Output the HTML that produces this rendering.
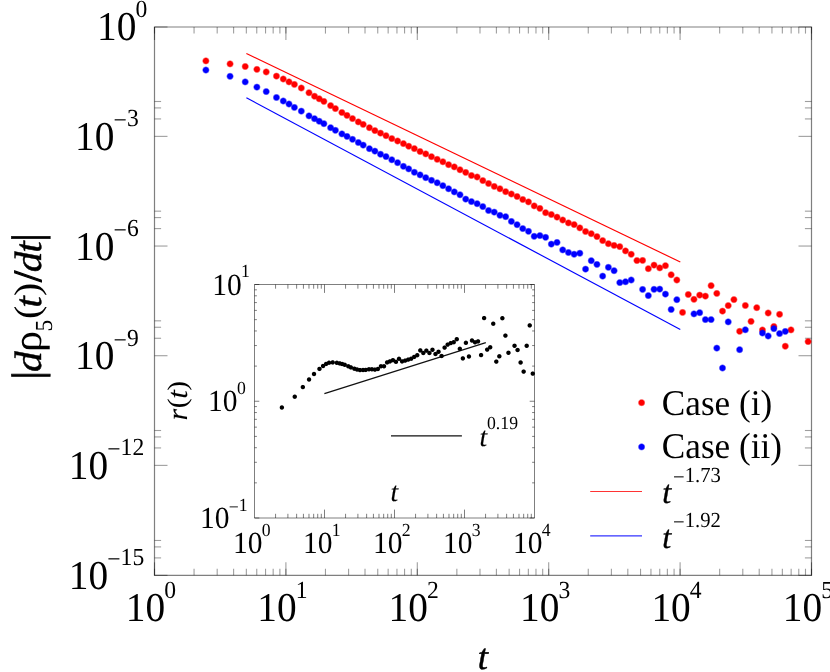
<!DOCTYPE html>
<html><head><meta charset="utf-8"><title>plot</title>
<style>
html,body{margin:0;padding:0;background:#fff;}
body{width:830px;height:672px;overflow:hidden;}
svg{display:block;position:absolute;left:0;top:0;will-change:transform;}
text{font-family:"Liberation Serif",serif;fill:#000;text-rendering:geometricPrecision;}
.i{font-style:italic;stroke:#000;}
</style></head><body>
<svg width="830" height="672" viewBox="0 0 830 672">
<rect x="0" y="0" width="830" height="672" fill="#fff"/>
<defs>
<radialGradient id="gr"><stop offset="0.62" stop-color="#ff0000"/><stop offset="1" stop-color="#ff0000" stop-opacity="0"/></radialGradient>
<radialGradient id="gb"><stop offset="0.62" stop-color="#0000ff"/><stop offset="1" stop-color="#0000ff" stop-opacity="0"/></radialGradient>
<radialGradient id="gk"><stop offset="0.62" stop-color="#000000"/><stop offset="1" stop-color="#000000" stop-opacity="0"/></radialGradient>
</defs>
<path d="M154.5 27H811.5V575.35H154.5Z" fill="none" stroke="#000" stroke-opacity="0.5" stroke-width="1.2"/>
<path d="M154.5 575.35L154.5 562.35" stroke="#000" stroke-opacity="0.38" stroke-width="1.1"/>
<path d="M154.5 27L154.5 40" stroke="#000" stroke-opacity="0.38" stroke-width="1.1"/>
<path d="M154.5 575.35L154.5 568.75" stroke="#000" stroke-opacity="0.38" stroke-width="1.1"/>
<path d="M154.5 27L154.5 33.6" stroke="#000" stroke-opacity="0.38" stroke-width="1.1"/>
<path d="M194.06 575.35L194.06 568.75" stroke="#000" stroke-opacity="0.38" stroke-width="1.1"/>
<path d="M194.06 27L194.06 33.6" stroke="#000" stroke-opacity="0.38" stroke-width="1.1"/>
<path d="M217.19 575.35L217.19 568.75" stroke="#000" stroke-opacity="0.38" stroke-width="1.1"/>
<path d="M217.19 27L217.19 33.6" stroke="#000" stroke-opacity="0.38" stroke-width="1.1"/>
<path d="M233.61 575.35L233.61 568.75" stroke="#000" stroke-opacity="0.38" stroke-width="1.1"/>
<path d="M233.61 27L233.61 33.6" stroke="#000" stroke-opacity="0.38" stroke-width="1.1"/>
<path d="M246.34 575.35L246.34 568.75" stroke="#000" stroke-opacity="0.38" stroke-width="1.1"/>
<path d="M246.34 27L246.34 33.6" stroke="#000" stroke-opacity="0.38" stroke-width="1.1"/>
<path d="M256.75 575.35L256.75 568.75" stroke="#000" stroke-opacity="0.38" stroke-width="1.1"/>
<path d="M256.75 27L256.75 33.6" stroke="#000" stroke-opacity="0.38" stroke-width="1.1"/>
<path d="M265.55 575.35L265.55 568.75" stroke="#000" stroke-opacity="0.38" stroke-width="1.1"/>
<path d="M265.55 27L265.55 33.6" stroke="#000" stroke-opacity="0.38" stroke-width="1.1"/>
<path d="M273.17 575.35L273.17 568.75" stroke="#000" stroke-opacity="0.38" stroke-width="1.1"/>
<path d="M273.17 27L273.17 33.6" stroke="#000" stroke-opacity="0.38" stroke-width="1.1"/>
<path d="M279.89 575.35L279.89 568.75" stroke="#000" stroke-opacity="0.38" stroke-width="1.1"/>
<path d="M279.89 27L279.89 33.6" stroke="#000" stroke-opacity="0.38" stroke-width="1.1"/>
<path d="M285.9 575.35L285.9 562.35" stroke="#000" stroke-opacity="0.38" stroke-width="1.1"/>
<path d="M285.9 27L285.9 40" stroke="#000" stroke-opacity="0.38" stroke-width="1.1"/>
<path d="M285.9 575.35L285.9 568.75" stroke="#000" stroke-opacity="0.38" stroke-width="1.1"/>
<path d="M285.9 27L285.9 33.6" stroke="#000" stroke-opacity="0.38" stroke-width="1.1"/>
<path d="M325.46 575.35L325.46 568.75" stroke="#000" stroke-opacity="0.38" stroke-width="1.1"/>
<path d="M325.46 27L325.46 33.6" stroke="#000" stroke-opacity="0.38" stroke-width="1.1"/>
<path d="M348.59 575.35L348.59 568.75" stroke="#000" stroke-opacity="0.38" stroke-width="1.1"/>
<path d="M348.59 27L348.59 33.6" stroke="#000" stroke-opacity="0.38" stroke-width="1.1"/>
<path d="M365.01 575.35L365.01 568.75" stroke="#000" stroke-opacity="0.38" stroke-width="1.1"/>
<path d="M365.01 27L365.01 33.6" stroke="#000" stroke-opacity="0.38" stroke-width="1.1"/>
<path d="M377.74 575.35L377.74 568.75" stroke="#000" stroke-opacity="0.38" stroke-width="1.1"/>
<path d="M377.74 27L377.74 33.6" stroke="#000" stroke-opacity="0.38" stroke-width="1.1"/>
<path d="M388.15 575.35L388.15 568.75" stroke="#000" stroke-opacity="0.38" stroke-width="1.1"/>
<path d="M388.15 27L388.15 33.6" stroke="#000" stroke-opacity="0.38" stroke-width="1.1"/>
<path d="M396.95 575.35L396.95 568.75" stroke="#000" stroke-opacity="0.38" stroke-width="1.1"/>
<path d="M396.95 27L396.95 33.6" stroke="#000" stroke-opacity="0.38" stroke-width="1.1"/>
<path d="M404.57 575.35L404.57 568.75" stroke="#000" stroke-opacity="0.38" stroke-width="1.1"/>
<path d="M404.57 27L404.57 33.6" stroke="#000" stroke-opacity="0.38" stroke-width="1.1"/>
<path d="M411.29 575.35L411.29 568.75" stroke="#000" stroke-opacity="0.38" stroke-width="1.1"/>
<path d="M411.29 27L411.29 33.6" stroke="#000" stroke-opacity="0.38" stroke-width="1.1"/>
<path d="M417.3 575.35L417.3 562.35" stroke="#000" stroke-opacity="0.38" stroke-width="1.1"/>
<path d="M417.3 27L417.3 40" stroke="#000" stroke-opacity="0.38" stroke-width="1.1"/>
<path d="M417.3 575.35L417.3 568.75" stroke="#000" stroke-opacity="0.38" stroke-width="1.1"/>
<path d="M417.3 27L417.3 33.6" stroke="#000" stroke-opacity="0.38" stroke-width="1.1"/>
<path d="M456.86 575.35L456.86 568.75" stroke="#000" stroke-opacity="0.38" stroke-width="1.1"/>
<path d="M456.86 27L456.86 33.6" stroke="#000" stroke-opacity="0.38" stroke-width="1.1"/>
<path d="M479.99 575.35L479.99 568.75" stroke="#000" stroke-opacity="0.38" stroke-width="1.1"/>
<path d="M479.99 27L479.99 33.6" stroke="#000" stroke-opacity="0.38" stroke-width="1.1"/>
<path d="M496.41 575.35L496.41 568.75" stroke="#000" stroke-opacity="0.38" stroke-width="1.1"/>
<path d="M496.41 27L496.41 33.6" stroke="#000" stroke-opacity="0.38" stroke-width="1.1"/>
<path d="M509.14 575.35L509.14 568.75" stroke="#000" stroke-opacity="0.38" stroke-width="1.1"/>
<path d="M509.14 27L509.14 33.6" stroke="#000" stroke-opacity="0.38" stroke-width="1.1"/>
<path d="M519.55 575.35L519.55 568.75" stroke="#000" stroke-opacity="0.38" stroke-width="1.1"/>
<path d="M519.55 27L519.55 33.6" stroke="#000" stroke-opacity="0.38" stroke-width="1.1"/>
<path d="M528.35 575.35L528.35 568.75" stroke="#000" stroke-opacity="0.38" stroke-width="1.1"/>
<path d="M528.35 27L528.35 33.6" stroke="#000" stroke-opacity="0.38" stroke-width="1.1"/>
<path d="M535.97 575.35L535.97 568.75" stroke="#000" stroke-opacity="0.38" stroke-width="1.1"/>
<path d="M535.97 27L535.97 33.6" stroke="#000" stroke-opacity="0.38" stroke-width="1.1"/>
<path d="M542.69 575.35L542.69 568.75" stroke="#000" stroke-opacity="0.38" stroke-width="1.1"/>
<path d="M542.69 27L542.69 33.6" stroke="#000" stroke-opacity="0.38" stroke-width="1.1"/>
<path d="M548.7 575.35L548.7 562.35" stroke="#000" stroke-opacity="0.38" stroke-width="1.1"/>
<path d="M548.7 27L548.7 40" stroke="#000" stroke-opacity="0.38" stroke-width="1.1"/>
<path d="M548.7 575.35L548.7 568.75" stroke="#000" stroke-opacity="0.38" stroke-width="1.1"/>
<path d="M548.7 27L548.7 33.6" stroke="#000" stroke-opacity="0.38" stroke-width="1.1"/>
<path d="M588.26 575.35L588.26 568.75" stroke="#000" stroke-opacity="0.38" stroke-width="1.1"/>
<path d="M588.26 27L588.26 33.6" stroke="#000" stroke-opacity="0.38" stroke-width="1.1"/>
<path d="M611.39 575.35L611.39 568.75" stroke="#000" stroke-opacity="0.38" stroke-width="1.1"/>
<path d="M611.39 27L611.39 33.6" stroke="#000" stroke-opacity="0.38" stroke-width="1.1"/>
<path d="M627.81 575.35L627.81 568.75" stroke="#000" stroke-opacity="0.38" stroke-width="1.1"/>
<path d="M627.81 27L627.81 33.6" stroke="#000" stroke-opacity="0.38" stroke-width="1.1"/>
<path d="M640.54 575.35L640.54 568.75" stroke="#000" stroke-opacity="0.38" stroke-width="1.1"/>
<path d="M640.54 27L640.54 33.6" stroke="#000" stroke-opacity="0.38" stroke-width="1.1"/>
<path d="M650.95 575.35L650.95 568.75" stroke="#000" stroke-opacity="0.38" stroke-width="1.1"/>
<path d="M650.95 27L650.95 33.6" stroke="#000" stroke-opacity="0.38" stroke-width="1.1"/>
<path d="M659.75 575.35L659.75 568.75" stroke="#000" stroke-opacity="0.38" stroke-width="1.1"/>
<path d="M659.75 27L659.75 33.6" stroke="#000" stroke-opacity="0.38" stroke-width="1.1"/>
<path d="M667.37 575.35L667.37 568.75" stroke="#000" stroke-opacity="0.38" stroke-width="1.1"/>
<path d="M667.37 27L667.37 33.6" stroke="#000" stroke-opacity="0.38" stroke-width="1.1"/>
<path d="M674.09 575.35L674.09 568.75" stroke="#000" stroke-opacity="0.38" stroke-width="1.1"/>
<path d="M674.09 27L674.09 33.6" stroke="#000" stroke-opacity="0.38" stroke-width="1.1"/>
<path d="M680.1 575.35L680.1 562.35" stroke="#000" stroke-opacity="0.38" stroke-width="1.1"/>
<path d="M680.1 27L680.1 40" stroke="#000" stroke-opacity="0.38" stroke-width="1.1"/>
<path d="M680.1 575.35L680.1 568.75" stroke="#000" stroke-opacity="0.38" stroke-width="1.1"/>
<path d="M680.1 27L680.1 33.6" stroke="#000" stroke-opacity="0.38" stroke-width="1.1"/>
<path d="M719.66 575.35L719.66 568.75" stroke="#000" stroke-opacity="0.38" stroke-width="1.1"/>
<path d="M719.66 27L719.66 33.6" stroke="#000" stroke-opacity="0.38" stroke-width="1.1"/>
<path d="M742.79 575.35L742.79 568.75" stroke="#000" stroke-opacity="0.38" stroke-width="1.1"/>
<path d="M742.79 27L742.79 33.6" stroke="#000" stroke-opacity="0.38" stroke-width="1.1"/>
<path d="M759.21 575.35L759.21 568.75" stroke="#000" stroke-opacity="0.38" stroke-width="1.1"/>
<path d="M759.21 27L759.21 33.6" stroke="#000" stroke-opacity="0.38" stroke-width="1.1"/>
<path d="M771.94 575.35L771.94 568.75" stroke="#000" stroke-opacity="0.38" stroke-width="1.1"/>
<path d="M771.94 27L771.94 33.6" stroke="#000" stroke-opacity="0.38" stroke-width="1.1"/>
<path d="M782.35 575.35L782.35 568.75" stroke="#000" stroke-opacity="0.38" stroke-width="1.1"/>
<path d="M782.35 27L782.35 33.6" stroke="#000" stroke-opacity="0.38" stroke-width="1.1"/>
<path d="M791.15 575.35L791.15 568.75" stroke="#000" stroke-opacity="0.38" stroke-width="1.1"/>
<path d="M791.15 27L791.15 33.6" stroke="#000" stroke-opacity="0.38" stroke-width="1.1"/>
<path d="M798.77 575.35L798.77 568.75" stroke="#000" stroke-opacity="0.38" stroke-width="1.1"/>
<path d="M798.77 27L798.77 33.6" stroke="#000" stroke-opacity="0.38" stroke-width="1.1"/>
<path d="M805.49 575.35L805.49 568.75" stroke="#000" stroke-opacity="0.38" stroke-width="1.1"/>
<path d="M805.49 27L805.49 33.6" stroke="#000" stroke-opacity="0.38" stroke-width="1.1"/>
<path d="M811.5 575.35L811.5 562.35" stroke="#000" stroke-opacity="0.38" stroke-width="1.1"/>
<path d="M811.5 27L811.5 40" stroke="#000" stroke-opacity="0.38" stroke-width="1.1"/>
<path d="M811.5 575.35L811.5 568.75" stroke="#000" stroke-opacity="0.38" stroke-width="1.1"/>
<path d="M811.5 27L811.5 33.6" stroke="#000" stroke-opacity="0.38" stroke-width="1.1"/>
<path d="M154.5 27L167.5 27" stroke="#000" stroke-opacity="0.38" stroke-width="1.1"/>
<path d="M811.5 27L798.5 27" stroke="#000" stroke-opacity="0.38" stroke-width="1.1"/>
<path d="M154.5 136.37L167.5 136.37" stroke="#000" stroke-opacity="0.38" stroke-width="1.1"/>
<path d="M811.5 136.37L798.5 136.37" stroke="#000" stroke-opacity="0.38" stroke-width="1.1"/>
<path d="M154.5 118.93L161.1 118.93" stroke="#000" stroke-opacity="0.38" stroke-width="1.1"/>
<path d="M811.5 118.93L804.9 118.93" stroke="#000" stroke-opacity="0.38" stroke-width="1.1"/>
<path d="M154.5 107.92L161.1 107.92" stroke="#000" stroke-opacity="0.38" stroke-width="1.1"/>
<path d="M811.5 107.92L804.9 107.92" stroke="#000" stroke-opacity="0.38" stroke-width="1.1"/>
<path d="M154.5 101.49L161.1 101.49" stroke="#000" stroke-opacity="0.38" stroke-width="1.1"/>
<path d="M811.5 101.49L804.9 101.49" stroke="#000" stroke-opacity="0.38" stroke-width="1.1"/>
<path d="M154.5 246.04L167.5 246.04" stroke="#000" stroke-opacity="0.38" stroke-width="1.1"/>
<path d="M811.5 246.04L798.5 246.04" stroke="#000" stroke-opacity="0.38" stroke-width="1.1"/>
<path d="M154.5 228.6L161.1 228.6" stroke="#000" stroke-opacity="0.38" stroke-width="1.1"/>
<path d="M811.5 228.6L804.9 228.6" stroke="#000" stroke-opacity="0.38" stroke-width="1.1"/>
<path d="M154.5 217.59L161.1 217.59" stroke="#000" stroke-opacity="0.38" stroke-width="1.1"/>
<path d="M811.5 217.59L804.9 217.59" stroke="#000" stroke-opacity="0.38" stroke-width="1.1"/>
<path d="M154.5 211.16L161.1 211.16" stroke="#000" stroke-opacity="0.38" stroke-width="1.1"/>
<path d="M811.5 211.16L804.9 211.16" stroke="#000" stroke-opacity="0.38" stroke-width="1.1"/>
<path d="M154.5 355.71L167.5 355.71" stroke="#000" stroke-opacity="0.38" stroke-width="1.1"/>
<path d="M811.5 355.71L798.5 355.71" stroke="#000" stroke-opacity="0.38" stroke-width="1.1"/>
<path d="M154.5 338.27L161.1 338.27" stroke="#000" stroke-opacity="0.38" stroke-width="1.1"/>
<path d="M811.5 338.27L804.9 338.27" stroke="#000" stroke-opacity="0.38" stroke-width="1.1"/>
<path d="M154.5 327.26L161.1 327.26" stroke="#000" stroke-opacity="0.38" stroke-width="1.1"/>
<path d="M811.5 327.26L804.9 327.26" stroke="#000" stroke-opacity="0.38" stroke-width="1.1"/>
<path d="M154.5 320.83L161.1 320.83" stroke="#000" stroke-opacity="0.38" stroke-width="1.1"/>
<path d="M811.5 320.83L804.9 320.83" stroke="#000" stroke-opacity="0.38" stroke-width="1.1"/>
<path d="M154.5 465.38L167.5 465.38" stroke="#000" stroke-opacity="0.38" stroke-width="1.1"/>
<path d="M811.5 465.38L798.5 465.38" stroke="#000" stroke-opacity="0.38" stroke-width="1.1"/>
<path d="M154.5 447.94L161.1 447.94" stroke="#000" stroke-opacity="0.38" stroke-width="1.1"/>
<path d="M811.5 447.94L804.9 447.94" stroke="#000" stroke-opacity="0.38" stroke-width="1.1"/>
<path d="M154.5 436.93L161.1 436.93" stroke="#000" stroke-opacity="0.38" stroke-width="1.1"/>
<path d="M811.5 436.93L804.9 436.93" stroke="#000" stroke-opacity="0.38" stroke-width="1.1"/>
<path d="M154.5 430.5L161.1 430.5" stroke="#000" stroke-opacity="0.38" stroke-width="1.1"/>
<path d="M811.5 430.5L804.9 430.5" stroke="#000" stroke-opacity="0.38" stroke-width="1.1"/>
<path d="M154.5 575.35L167.5 575.35" stroke="#000" stroke-opacity="0.38" stroke-width="1.1"/>
<path d="M811.5 575.35L798.5 575.35" stroke="#000" stroke-opacity="0.38" stroke-width="1.1"/>
<path d="M154.5 557.91L161.1 557.91" stroke="#000" stroke-opacity="0.38" stroke-width="1.1"/>
<path d="M811.5 557.91L804.9 557.91" stroke="#000" stroke-opacity="0.38" stroke-width="1.1"/>
<path d="M154.5 546.9L161.1 546.9" stroke="#000" stroke-opacity="0.38" stroke-width="1.1"/>
<path d="M811.5 546.9L804.9 546.9" stroke="#000" stroke-opacity="0.38" stroke-width="1.1"/>
<path d="M154.5 540.47L161.1 540.47" stroke="#000" stroke-opacity="0.38" stroke-width="1.1"/>
<path d="M811.5 540.47L804.9 540.47" stroke="#000" stroke-opacity="0.38" stroke-width="1.1"/>
<path d="M246.4 53.4L680.3 262" stroke="#ff0000" stroke-width="1.15" fill="none"/>
<path d="M246.4 97.8L680.3 329.5" stroke="#0000ff" stroke-width="1.15" fill="none"/>
<g fill="url(#gr)">
<circle cx="205.9" cy="60.9" r="3.95"/>
<circle cx="230.05" cy="63.9" r="3.95"/>
<circle cx="245.2" cy="66.5" r="3.95"/>
<circle cx="256.9" cy="69.35" r="3.95"/>
<circle cx="266.2" cy="71.95" r="3.95"/>
<circle cx="276.45" cy="76.1" r="3.95"/>
<circle cx="283.25" cy="79" r="3.95"/>
<circle cx="289" cy="81.9" r="3.95"/>
<circle cx="294.4" cy="84.4" r="3.95"/>
<circle cx="301.3" cy="88" r="3.95"/>
<circle cx="309" cy="92.75" r="3.95"/>
<circle cx="314.5" cy="96.2" r="3.95"/>
<circle cx="319.2" cy="98.8" r="3.95"/>
<circle cx="323.9" cy="101.4" r="3.95"/>
<circle cx="330.6" cy="105.6" r="3.95"/>
<circle cx="335.4" cy="108.6" r="3.95"/>
<circle cx="341.9" cy="112.5" r="3.95"/>
<circle cx="347" cy="115.4" r="3.95"/>
<circle cx="352.5" cy="118.6" r="3.95"/>
<circle cx="358.3" cy="121.9" r="3.95"/>
<circle cx="363.2" cy="124.4" r="3.95"/>
<circle cx="369.4" cy="127.7" r="3.95"/>
<circle cx="374.9" cy="130.6" r="3.95"/>
<circle cx="380.5" cy="133.1" r="3.95"/>
<circle cx="386" cy="135.7" r="3.95"/>
<circle cx="391.8" cy="138.6" r="3.95"/>
<circle cx="397.6" cy="141" r="3.95"/>
<circle cx="403.4" cy="143.6" r="3.95"/>
<circle cx="408.7" cy="146.2" r="3.95"/>
<circle cx="414.35" cy="148.6" r="3.95"/>
<circle cx="420.06" cy="151.5" r="3.95"/>
<circle cx="425.76" cy="153.9" r="3.95"/>
<circle cx="431.47" cy="156.7" r="3.95"/>
<circle cx="437.18" cy="159.3" r="3.95"/>
<circle cx="442.88" cy="161.8" r="3.95"/>
<circle cx="448.59" cy="164.7" r="3.95"/>
<circle cx="454.3" cy="166.9" r="3.95"/>
<circle cx="460" cy="169.8" r="3.95"/>
<circle cx="465.71" cy="172.4" r="3.95"/>
<circle cx="471.42" cy="175.5" r="3.95"/>
<circle cx="477.12" cy="177" r="3.95"/>
<circle cx="482.83" cy="180.6" r="3.95"/>
<circle cx="488.54" cy="183.5" r="3.95"/>
<circle cx="494.24" cy="186.4" r="3.95"/>
<circle cx="499.95" cy="188.8" r="3.95"/>
<circle cx="505.66" cy="191.7" r="3.95"/>
<circle cx="511.36" cy="194" r="3.95"/>
<circle cx="517.07" cy="196.5" r="3.95"/>
<circle cx="522.78" cy="199.5" r="3.95"/>
<circle cx="528.48" cy="201.9" r="3.95"/>
<circle cx="534.19" cy="205.9" r="3.95"/>
<circle cx="539.9" cy="208.4" r="3.95"/>
<circle cx="545.6" cy="212.7" r="3.95"/>
<circle cx="551.31" cy="214.5" r="3.95"/>
<circle cx="557.02" cy="217.1" r="3.95"/>
<circle cx="562.72" cy="220" r="3.95"/>
<circle cx="568.43" cy="222.9" r="3.95"/>
<circle cx="574.14" cy="224.6" r="3.95"/>
<circle cx="579.84" cy="227.9" r="3.95"/>
<circle cx="585.55" cy="231.5" r="3.95"/>
<circle cx="591.25" cy="233.7" r="3.95"/>
<circle cx="596.96" cy="236.6" r="3.95"/>
<circle cx="602.67" cy="240.6" r="3.95"/>
<circle cx="608.37" cy="243.7" r="3.95"/>
<circle cx="614.08" cy="245.4" r="3.95"/>
<circle cx="619.79" cy="246.65" r="3.95"/>
<circle cx="625.49" cy="250.9" r="3.95"/>
<circle cx="631.2" cy="254.25" r="3.95"/>
<circle cx="636.91" cy="260.55" r="3.95"/>
<circle cx="642.61" cy="260.4" r="3.95"/>
<circle cx="648.32" cy="268.7" r="3.95"/>
<circle cx="654.03" cy="265.1" r="3.95"/>
<circle cx="659.73" cy="267.9" r="3.95"/>
<circle cx="665.44" cy="265.7" r="3.95"/>
<circle cx="671.15" cy="274.8" r="3.95"/>
<circle cx="676.85" cy="280" r="3.95"/>
<circle cx="682.56" cy="312.4" r="3.95"/>
<circle cx="688.27" cy="294.5" r="3.95"/>
<circle cx="693.97" cy="299.3" r="3.95"/>
<circle cx="699.68" cy="295.1" r="3.95"/>
<circle cx="705.39" cy="296.1" r="3.95"/>
<circle cx="711.09" cy="285.65" r="3.95"/>
<circle cx="716.8" cy="293.4" r="3.95"/>
<circle cx="722.51" cy="311.1" r="3.95"/>
<circle cx="728.21" cy="305.6" r="3.95"/>
<circle cx="733.92" cy="299.6" r="3.95"/>
<circle cx="739.63" cy="331.3" r="3.95"/>
<circle cx="745.33" cy="305.5" r="3.95"/>
<circle cx="751.04" cy="321.4" r="3.95"/>
<circle cx="756.75" cy="307.7" r="3.95"/>
<circle cx="762.45" cy="330" r="3.95"/>
<circle cx="768.16" cy="313" r="3.95"/>
<circle cx="773.87" cy="326.5" r="3.95"/>
<circle cx="779.57" cy="314.3" r="3.95"/>
<circle cx="785.28" cy="346.2" r="3.95"/>
<circle cx="790.99" cy="329.9" r="3.95"/>
<circle cx="808.11" cy="341.6" r="3.95"/>
</g>
<g fill="url(#gb)">
<circle cx="205.9" cy="70.05" r="3.95"/>
<circle cx="230.05" cy="76.3" r="3.95"/>
<circle cx="245.2" cy="81.9" r="3.95"/>
<circle cx="256.9" cy="87.1" r="3.95"/>
<circle cx="266.2" cy="91.6" r="3.95"/>
<circle cx="276.45" cy="97.5" r="3.95"/>
<circle cx="283.25" cy="101" r="3.95"/>
<circle cx="289" cy="104" r="3.95"/>
<circle cx="294.4" cy="107.4" r="3.95"/>
<circle cx="301.3" cy="111.1" r="3.95"/>
<circle cx="309" cy="115.9" r="3.95"/>
<circle cx="314.5" cy="118.7" r="3.95"/>
<circle cx="319.2" cy="121.2" r="3.95"/>
<circle cx="323.9" cy="123.7" r="3.95"/>
<circle cx="330.6" cy="127.7" r="3.95"/>
<circle cx="335.4" cy="130.3" r="3.95"/>
<circle cx="341.9" cy="133.9" r="3.95"/>
<circle cx="347" cy="136.4" r="3.95"/>
<circle cx="352.5" cy="139.3" r="3.95"/>
<circle cx="358.3" cy="142.5" r="3.95"/>
<circle cx="363.2" cy="145.1" r="3.95"/>
<circle cx="369.4" cy="148.7" r="3.95"/>
<circle cx="374.9" cy="151.1" r="3.95"/>
<circle cx="380.5" cy="154.2" r="3.95"/>
<circle cx="386" cy="156.6" r="3.95"/>
<circle cx="391.8" cy="159.8" r="3.95"/>
<circle cx="397.6" cy="162.7" r="3.95"/>
<circle cx="403.4" cy="166.3" r="3.95"/>
<circle cx="408.7" cy="168.9" r="3.95"/>
<circle cx="414.35" cy="172.25" r="3.95"/>
<circle cx="420.06" cy="174.9" r="3.95"/>
<circle cx="425.76" cy="177.7" r="3.95"/>
<circle cx="431.47" cy="180.3" r="3.95"/>
<circle cx="437.18" cy="182.8" r="3.95"/>
<circle cx="442.88" cy="185.7" r="3.95"/>
<circle cx="448.59" cy="188.8" r="3.95"/>
<circle cx="454.3" cy="191.9" r="3.95"/>
<circle cx="460" cy="194.8" r="3.95"/>
<circle cx="465.71" cy="199.1" r="3.95"/>
<circle cx="471.42" cy="201.6" r="3.95"/>
<circle cx="477.12" cy="203.7" r="3.95"/>
<circle cx="482.83" cy="206.6" r="3.95"/>
<circle cx="488.54" cy="210.5" r="3.95"/>
<circle cx="494.24" cy="212.1" r="3.95"/>
<circle cx="499.95" cy="215.3" r="3.95"/>
<circle cx="505.66" cy="216.7" r="3.95"/>
<circle cx="511.36" cy="221.4" r="3.95"/>
<circle cx="517.07" cy="224.7" r="3.95"/>
<circle cx="522.78" cy="228.6" r="3.95"/>
<circle cx="528.48" cy="231.3" r="3.95"/>
<circle cx="534.19" cy="236.3" r="3.95"/>
<circle cx="539.9" cy="235.6" r="3.95"/>
<circle cx="545.6" cy="237.3" r="3.95"/>
<circle cx="551.31" cy="244.1" r="3.95"/>
<circle cx="557.02" cy="242.4" r="3.95"/>
<circle cx="562.72" cy="249.9" r="3.95"/>
<circle cx="568.43" cy="252.5" r="3.95"/>
<circle cx="574.14" cy="254.2" r="3.95"/>
<circle cx="579.84" cy="253.2" r="3.95"/>
<circle cx="585.55" cy="269.1" r="3.95"/>
<circle cx="591.25" cy="260.7" r="3.95"/>
<circle cx="596.96" cy="264.4" r="3.95"/>
<circle cx="602.67" cy="276.1" r="3.95"/>
<circle cx="608.37" cy="267.3" r="3.95"/>
<circle cx="614.08" cy="270.7" r="3.95"/>
<circle cx="619.79" cy="282.6" r="3.95"/>
<circle cx="625.49" cy="281.8" r="3.95"/>
<circle cx="631.2" cy="280" r="3.95"/>
<circle cx="642.61" cy="289.4" r="3.95"/>
<circle cx="648.32" cy="295.6" r="3.95"/>
<circle cx="654.03" cy="289.3" r="3.95"/>
<circle cx="659.73" cy="289.1" r="3.95"/>
<circle cx="665.44" cy="294.1" r="3.95"/>
<circle cx="671.15" cy="309.5" r="3.95"/>
<circle cx="676.85" cy="299.7" r="3.95"/>
<circle cx="693.97" cy="313.9" r="3.95"/>
<circle cx="699.68" cy="312.7" r="3.95"/>
<circle cx="705.39" cy="319.6" r="3.95"/>
<circle cx="711.09" cy="319.6" r="3.95"/>
<circle cx="716.8" cy="348.1" r="3.95"/>
<circle cx="722.51" cy="368" r="3.95"/>
<circle cx="728.21" cy="321.9" r="3.95"/>
<circle cx="739.63" cy="349.7" r="3.95"/>
<circle cx="745.33" cy="329.8" r="3.95"/>
<circle cx="762.45" cy="333" r="3.95"/>
<circle cx="768.16" cy="336" r="3.95"/>
<circle cx="773.87" cy="328.65" r="3.95"/>
<circle cx="779.57" cy="333.55" r="3.95"/>
<circle cx="785.28" cy="331.4" r="3.95"/>
</g>
<text transform="translate(97.1 40.3) scale(0.96 1)" font-size="41">10</text>
<text transform="translate(135.56 16.7) scale(0.96 1)" font-size="24.6">0</text>
<text transform="translate(75.1 149.97) scale(0.96 1)" font-size="41">10</text>
<text transform="translate(113.56 128.47) scale(0.96 1)" font-size="24.6">−</text>
<text transform="translate(126.88 126.37) scale(0.96 1)" font-size="24.6">3</text>
<text transform="translate(75.1 259.64) scale(0.96 1)" font-size="41">10</text>
<text transform="translate(113.56 238.14) scale(0.96 1)" font-size="24.6">−</text>
<text transform="translate(126.88 236.04) scale(0.96 1)" font-size="24.6">6</text>
<text transform="translate(75.1 369.31) scale(0.96 1)" font-size="41">10</text>
<text transform="translate(113.56 347.81) scale(0.96 1)" font-size="24.6">−</text>
<text transform="translate(126.88 345.71) scale(0.96 1)" font-size="24.6">9</text>
<text transform="translate(68.8 478.98) scale(0.96 1)" font-size="41">10</text>
<text transform="translate(107.26 457.48) scale(0.96 1)" font-size="24.6">−</text>
<text transform="translate(120.58 455.38) scale(0.96 1)" font-size="24.6">12</text>
<text transform="translate(68.8 588.65) scale(0.96 1)" font-size="41">10</text>
<text transform="translate(107.26 567.15) scale(0.96 1)" font-size="24.6">−</text>
<text transform="translate(120.58 565.05) scale(0.96 1)" font-size="24.6">15</text>
<text transform="translate(125.8 621.2) scale(0.96 1)" font-size="41">10</text>
<text transform="translate(164.26 597.6) scale(0.96 1)" font-size="24.6">0</text>
<text transform="translate(257.2 621.2) scale(0.96 1)" font-size="41">10</text>
<text transform="translate(295.66 597.6) scale(0.96 1)" font-size="24.6">1</text>
<text transform="translate(388.6 621.2) scale(0.96 1)" font-size="41">10</text>
<text transform="translate(427.06 597.6) scale(0.96 1)" font-size="24.6">2</text>
<text transform="translate(520 621.2) scale(0.96 1)" font-size="41">10</text>
<text transform="translate(558.46 597.6) scale(0.96 1)" font-size="24.6">3</text>
<text transform="translate(651.4 621.2) scale(0.96 1)" font-size="41">10</text>
<text transform="translate(689.86 597.6) scale(0.96 1)" font-size="24.6">4</text>
<text transform="translate(782.8 621.2) scale(0.96 1)" font-size="41">10</text>
<text transform="translate(821.26 597.6) scale(0.96 1)" font-size="24.6">5</text>
<text class="i" transform="translate(477.8 668.6) scale(1 1)" font-size="36.64" stroke-width="0.49">t</text>
<g transform="translate(41 380) rotate(-90)"><text transform="translate(0.55 0) scale(1 1)" font-size="42.5" stroke="#000" stroke-width="0.7">|</text><text class="i" transform="translate(7.95 0) scale(1.08 1)" font-size="38.2" stroke-width="0.43">d</text><text transform="translate(27.9 -0.5) scale(1.03 1)" font-size="41">ρ</text><text transform="translate(48.6 10.9) scale(0.96 1)" font-size="24.5">5</text><text transform="translate(61 -1.7) scale(1.1 1)" font-size="36">(</text><text class="i" transform="translate(72.2 0) scale(1.08 1)" font-size="38.2" stroke-width="0.43">t</text><text transform="translate(84.1 -1.7) scale(1.1 1)" font-size="36">)</text><text transform="translate(97.9 0) scale(1 1)" font-size="40" stroke="#000" stroke-width="1.1">/</text><text class="i" transform="translate(107.65 0) scale(1.08 1)" font-size="38.2" stroke-width="0.43">d</text><text class="i" transform="translate(127.2 0) scale(1.08 1)" font-size="38.2" stroke-width="0.43">t</text><text transform="translate(138.15 0) scale(1 1)" font-size="42.5" stroke="#000" stroke-width="0.7">|</text></g>
<circle cx="641.6" cy="402.7" r="3.95" fill="url(#gr)"/>
<circle cx="641.6" cy="446.9" r="3.95" fill="url(#gb)"/>
<text transform="translate(661.8 414.7) scale(0.97 1)" font-size="36.28">Case (i)</text>
<text transform="translate(661.8 458.4) scale(0.97 1)" font-size="36.28">Case (ii)</text>
<path d="M590.2 491.5H642" stroke="#ff0000" stroke-width="1.1" stroke-opacity="0.8"/>
<path d="M590.2 535.9H642" stroke="#0000ff" stroke-width="1.1" stroke-opacity="0.8"/>
<text class="i" transform="translate(662.2 503.2) scale(1 1)" font-size="32.43" stroke-width="0.33">t</text>
<text transform="translate(673 484.2) scale(0.96 1)" font-size="21.52">−</text>
<text transform="translate(684.65 482.4) scale(0.96 1)" font-size="21.52">1.73</text>
<text class="i" transform="translate(662.2 547.5) scale(1 1)" font-size="32.43" stroke-width="0.33">t</text>
<text transform="translate(673 528.5) scale(0.96 1)" font-size="21.52">−</text>
<text transform="translate(684.65 526.7) scale(0.96 1)" font-size="21.52">1.92</text>
<path d="M254.5 284.5H534.5V518H254.5Z" fill="none" stroke="#000" stroke-opacity="0.5" stroke-width="1.0"/>
<path d="M275.57 518L275.57 513.8" stroke="#000" stroke-opacity="0.5" stroke-width="1.0"/>
<path d="M275.57 284.5L275.57 288.7" stroke="#000" stroke-opacity="0.5" stroke-width="1.0"/>
<path d="M287.9 518L287.9 513.8" stroke="#000" stroke-opacity="0.5" stroke-width="1.0"/>
<path d="M287.9 284.5L287.9 288.7" stroke="#000" stroke-opacity="0.5" stroke-width="1.0"/>
<path d="M296.64 518L296.64 513.8" stroke="#000" stroke-opacity="0.5" stroke-width="1.0"/>
<path d="M296.64 284.5L296.64 288.7" stroke="#000" stroke-opacity="0.5" stroke-width="1.0"/>
<path d="M303.43 518L303.43 513.8" stroke="#000" stroke-opacity="0.5" stroke-width="1.0"/>
<path d="M303.43 284.5L303.43 288.7" stroke="#000" stroke-opacity="0.5" stroke-width="1.0"/>
<path d="M308.97 518L308.97 513.8" stroke="#000" stroke-opacity="0.5" stroke-width="1.0"/>
<path d="M308.97 284.5L308.97 288.7" stroke="#000" stroke-opacity="0.5" stroke-width="1.0"/>
<path d="M313.66 518L313.66 513.8" stroke="#000" stroke-opacity="0.5" stroke-width="1.0"/>
<path d="M313.66 284.5L313.66 288.7" stroke="#000" stroke-opacity="0.5" stroke-width="1.0"/>
<path d="M317.72 518L317.72 513.8" stroke="#000" stroke-opacity="0.5" stroke-width="1.0"/>
<path d="M317.72 284.5L317.72 288.7" stroke="#000" stroke-opacity="0.5" stroke-width="1.0"/>
<path d="M321.3 518L321.3 513.8" stroke="#000" stroke-opacity="0.5" stroke-width="1.0"/>
<path d="M321.3 284.5L321.3 288.7" stroke="#000" stroke-opacity="0.5" stroke-width="1.0"/>
<path d="M324.5 518L324.5 509.6" stroke="#000" stroke-opacity="0.5" stroke-width="1.0"/>
<path d="M324.5 284.5L324.5 292.9" stroke="#000" stroke-opacity="0.5" stroke-width="1.0"/>
<path d="M345.57 518L345.57 513.8" stroke="#000" stroke-opacity="0.5" stroke-width="1.0"/>
<path d="M345.57 284.5L345.57 288.7" stroke="#000" stroke-opacity="0.5" stroke-width="1.0"/>
<path d="M357.9 518L357.9 513.8" stroke="#000" stroke-opacity="0.5" stroke-width="1.0"/>
<path d="M357.9 284.5L357.9 288.7" stroke="#000" stroke-opacity="0.5" stroke-width="1.0"/>
<path d="M366.64 518L366.64 513.8" stroke="#000" stroke-opacity="0.5" stroke-width="1.0"/>
<path d="M366.64 284.5L366.64 288.7" stroke="#000" stroke-opacity="0.5" stroke-width="1.0"/>
<path d="M373.43 518L373.43 513.8" stroke="#000" stroke-opacity="0.5" stroke-width="1.0"/>
<path d="M373.43 284.5L373.43 288.7" stroke="#000" stroke-opacity="0.5" stroke-width="1.0"/>
<path d="M378.97 518L378.97 513.8" stroke="#000" stroke-opacity="0.5" stroke-width="1.0"/>
<path d="M378.97 284.5L378.97 288.7" stroke="#000" stroke-opacity="0.5" stroke-width="1.0"/>
<path d="M383.66 518L383.66 513.8" stroke="#000" stroke-opacity="0.5" stroke-width="1.0"/>
<path d="M383.66 284.5L383.66 288.7" stroke="#000" stroke-opacity="0.5" stroke-width="1.0"/>
<path d="M387.72 518L387.72 513.8" stroke="#000" stroke-opacity="0.5" stroke-width="1.0"/>
<path d="M387.72 284.5L387.72 288.7" stroke="#000" stroke-opacity="0.5" stroke-width="1.0"/>
<path d="M391.3 518L391.3 513.8" stroke="#000" stroke-opacity="0.5" stroke-width="1.0"/>
<path d="M391.3 284.5L391.3 288.7" stroke="#000" stroke-opacity="0.5" stroke-width="1.0"/>
<path d="M394.5 518L394.5 509.6" stroke="#000" stroke-opacity="0.5" stroke-width="1.0"/>
<path d="M394.5 284.5L394.5 292.9" stroke="#000" stroke-opacity="0.5" stroke-width="1.0"/>
<path d="M415.57 518L415.57 513.8" stroke="#000" stroke-opacity="0.5" stroke-width="1.0"/>
<path d="M415.57 284.5L415.57 288.7" stroke="#000" stroke-opacity="0.5" stroke-width="1.0"/>
<path d="M427.9 518L427.9 513.8" stroke="#000" stroke-opacity="0.5" stroke-width="1.0"/>
<path d="M427.9 284.5L427.9 288.7" stroke="#000" stroke-opacity="0.5" stroke-width="1.0"/>
<path d="M436.64 518L436.64 513.8" stroke="#000" stroke-opacity="0.5" stroke-width="1.0"/>
<path d="M436.64 284.5L436.64 288.7" stroke="#000" stroke-opacity="0.5" stroke-width="1.0"/>
<path d="M443.43 518L443.43 513.8" stroke="#000" stroke-opacity="0.5" stroke-width="1.0"/>
<path d="M443.43 284.5L443.43 288.7" stroke="#000" stroke-opacity="0.5" stroke-width="1.0"/>
<path d="M448.97 518L448.97 513.8" stroke="#000" stroke-opacity="0.5" stroke-width="1.0"/>
<path d="M448.97 284.5L448.97 288.7" stroke="#000" stroke-opacity="0.5" stroke-width="1.0"/>
<path d="M453.66 518L453.66 513.8" stroke="#000" stroke-opacity="0.5" stroke-width="1.0"/>
<path d="M453.66 284.5L453.66 288.7" stroke="#000" stroke-opacity="0.5" stroke-width="1.0"/>
<path d="M457.72 518L457.72 513.8" stroke="#000" stroke-opacity="0.5" stroke-width="1.0"/>
<path d="M457.72 284.5L457.72 288.7" stroke="#000" stroke-opacity="0.5" stroke-width="1.0"/>
<path d="M461.3 518L461.3 513.8" stroke="#000" stroke-opacity="0.5" stroke-width="1.0"/>
<path d="M461.3 284.5L461.3 288.7" stroke="#000" stroke-opacity="0.5" stroke-width="1.0"/>
<path d="M464.5 518L464.5 509.6" stroke="#000" stroke-opacity="0.5" stroke-width="1.0"/>
<path d="M464.5 284.5L464.5 292.9" stroke="#000" stroke-opacity="0.5" stroke-width="1.0"/>
<path d="M485.57 518L485.57 513.8" stroke="#000" stroke-opacity="0.5" stroke-width="1.0"/>
<path d="M485.57 284.5L485.57 288.7" stroke="#000" stroke-opacity="0.5" stroke-width="1.0"/>
<path d="M497.9 518L497.9 513.8" stroke="#000" stroke-opacity="0.5" stroke-width="1.0"/>
<path d="M497.9 284.5L497.9 288.7" stroke="#000" stroke-opacity="0.5" stroke-width="1.0"/>
<path d="M506.64 518L506.64 513.8" stroke="#000" stroke-opacity="0.5" stroke-width="1.0"/>
<path d="M506.64 284.5L506.64 288.7" stroke="#000" stroke-opacity="0.5" stroke-width="1.0"/>
<path d="M513.43 518L513.43 513.8" stroke="#000" stroke-opacity="0.5" stroke-width="1.0"/>
<path d="M513.43 284.5L513.43 288.7" stroke="#000" stroke-opacity="0.5" stroke-width="1.0"/>
<path d="M518.97 518L518.97 513.8" stroke="#000" stroke-opacity="0.5" stroke-width="1.0"/>
<path d="M518.97 284.5L518.97 288.7" stroke="#000" stroke-opacity="0.5" stroke-width="1.0"/>
<path d="M523.66 518L523.66 513.8" stroke="#000" stroke-opacity="0.5" stroke-width="1.0"/>
<path d="M523.66 284.5L523.66 288.7" stroke="#000" stroke-opacity="0.5" stroke-width="1.0"/>
<path d="M527.72 518L527.72 513.8" stroke="#000" stroke-opacity="0.5" stroke-width="1.0"/>
<path d="M527.72 284.5L527.72 288.7" stroke="#000" stroke-opacity="0.5" stroke-width="1.0"/>
<path d="M531.3 518L531.3 513.8" stroke="#000" stroke-opacity="0.5" stroke-width="1.0"/>
<path d="M531.3 284.5L531.3 288.7" stroke="#000" stroke-opacity="0.5" stroke-width="1.0"/>
<path d="M254.5 284.5L259.3 284.5" stroke="#000" stroke-opacity="0.5" stroke-width="1.0"/>
<path d="M534.5 284.5L529.7 284.5" stroke="#000" stroke-opacity="0.5" stroke-width="1.0"/>
<path d="M254.5 401.25L259.3 401.25" stroke="#000" stroke-opacity="0.5" stroke-width="1.0"/>
<path d="M534.5 401.25L529.7 401.25" stroke="#000" stroke-opacity="0.5" stroke-width="1.0"/>
<path d="M254.5 366.1L256.9 366.1" stroke="#000" stroke-opacity="0.5" stroke-width="1.0"/>
<path d="M534.5 366.1L532.1 366.1" stroke="#000" stroke-opacity="0.5" stroke-width="1.0"/>
<path d="M254.5 345.55L256.9 345.55" stroke="#000" stroke-opacity="0.5" stroke-width="1.0"/>
<path d="M534.5 345.55L532.1 345.55" stroke="#000" stroke-opacity="0.5" stroke-width="1.0"/>
<path d="M254.5 330.96L256.9 330.96" stroke="#000" stroke-opacity="0.5" stroke-width="1.0"/>
<path d="M534.5 330.96L532.1 330.96" stroke="#000" stroke-opacity="0.5" stroke-width="1.0"/>
<path d="M254.5 319.65L256.9 319.65" stroke="#000" stroke-opacity="0.5" stroke-width="1.0"/>
<path d="M534.5 319.65L532.1 319.65" stroke="#000" stroke-opacity="0.5" stroke-width="1.0"/>
<path d="M254.5 310.4L256.9 310.4" stroke="#000" stroke-opacity="0.5" stroke-width="1.0"/>
<path d="M534.5 310.4L532.1 310.4" stroke="#000" stroke-opacity="0.5" stroke-width="1.0"/>
<path d="M254.5 302.58L256.9 302.58" stroke="#000" stroke-opacity="0.5" stroke-width="1.0"/>
<path d="M534.5 302.58L532.1 302.58" stroke="#000" stroke-opacity="0.5" stroke-width="1.0"/>
<path d="M254.5 295.81L256.9 295.81" stroke="#000" stroke-opacity="0.5" stroke-width="1.0"/>
<path d="M534.5 295.81L532.1 295.81" stroke="#000" stroke-opacity="0.5" stroke-width="1.0"/>
<path d="M254.5 289.84L256.9 289.84" stroke="#000" stroke-opacity="0.5" stroke-width="1.0"/>
<path d="M534.5 289.84L532.1 289.84" stroke="#000" stroke-opacity="0.5" stroke-width="1.0"/>
<path d="M254.5 518L259.3 518" stroke="#000" stroke-opacity="0.5" stroke-width="1.0"/>
<path d="M534.5 518L529.7 518" stroke="#000" stroke-opacity="0.5" stroke-width="1.0"/>
<path d="M254.5 482.85L256.9 482.85" stroke="#000" stroke-opacity="0.5" stroke-width="1.0"/>
<path d="M534.5 482.85L532.1 482.85" stroke="#000" stroke-opacity="0.5" stroke-width="1.0"/>
<path d="M254.5 462.3L256.9 462.3" stroke="#000" stroke-opacity="0.5" stroke-width="1.0"/>
<path d="M534.5 462.3L532.1 462.3" stroke="#000" stroke-opacity="0.5" stroke-width="1.0"/>
<path d="M254.5 447.71L256.9 447.71" stroke="#000" stroke-opacity="0.5" stroke-width="1.0"/>
<path d="M534.5 447.71L532.1 447.71" stroke="#000" stroke-opacity="0.5" stroke-width="1.0"/>
<path d="M254.5 436.4L256.9 436.4" stroke="#000" stroke-opacity="0.5" stroke-width="1.0"/>
<path d="M534.5 436.4L532.1 436.4" stroke="#000" stroke-opacity="0.5" stroke-width="1.0"/>
<path d="M254.5 427.15L256.9 427.15" stroke="#000" stroke-opacity="0.5" stroke-width="1.0"/>
<path d="M534.5 427.15L532.1 427.15" stroke="#000" stroke-opacity="0.5" stroke-width="1.0"/>
<path d="M254.5 419.33L256.9 419.33" stroke="#000" stroke-opacity="0.5" stroke-width="1.0"/>
<path d="M534.5 419.33L532.1 419.33" stroke="#000" stroke-opacity="0.5" stroke-width="1.0"/>
<path d="M254.5 412.56L256.9 412.56" stroke="#000" stroke-opacity="0.5" stroke-width="1.0"/>
<path d="M534.5 412.56L532.1 412.56" stroke="#000" stroke-opacity="0.5" stroke-width="1.0"/>
<path d="M254.5 406.59L256.9 406.59" stroke="#000" stroke-opacity="0.5" stroke-width="1.0"/>
<path d="M534.5 406.59L532.1 406.59" stroke="#000" stroke-opacity="0.5" stroke-width="1.0"/>
<path d="M324.4 393.6L485.8 342.6" stroke="#111" stroke-width="1.25" fill="none"/>
<g fill="url(#gk)">
<circle cx="281.88" cy="407.5" r="2.7"/>
<circle cx="294.75" cy="396.7" r="2.7"/>
<circle cx="302.82" cy="387.1" r="2.7"/>
<circle cx="309.05" cy="379.5" r="2.7"/>
<circle cx="314.01" cy="374" r="2.7"/>
<circle cx="319.47" cy="368.9" r="2.7"/>
<circle cx="323.09" cy="366" r="2.7"/>
<circle cx="326.15" cy="363.9" r="2.7"/>
<circle cx="329.03" cy="362.7" r="2.7"/>
<circle cx="332.7" cy="362.4" r="2.7"/>
<circle cx="336.81" cy="362.8" r="2.7"/>
<circle cx="339.74" cy="363.4" r="2.7"/>
<circle cx="342.24" cy="364" r="2.7"/>
<circle cx="344.74" cy="364.8" r="2.7"/>
<circle cx="348.31" cy="366.3" r="2.7"/>
<circle cx="350.87" cy="367.4" r="2.7"/>
<circle cx="354.33" cy="368.7" r="2.7"/>
<circle cx="357.05" cy="369.5" r="2.7"/>
<circle cx="359.98" cy="370.1" r="2.7"/>
<circle cx="363.07" cy="370" r="2.7"/>
<circle cx="365.68" cy="369.9" r="2.7"/>
<circle cx="368.98" cy="369.3" r="2.7"/>
<circle cx="371.91" cy="369.3" r="2.7"/>
<circle cx="374.9" cy="369.6" r="2.7"/>
<circle cx="377.83" cy="369" r="2.7"/>
<circle cx="380.92" cy="366.3" r="2.7"/>
<circle cx="384.01" cy="366.3" r="2.7"/>
<circle cx="387.1" cy="362.4" r="2.7"/>
<circle cx="389.92" cy="361.4" r="2.7"/>
<circle cx="392.93" cy="360.2" r="2.7"/>
<circle cx="395.97" cy="361.8" r="2.7"/>
<circle cx="399.01" cy="358.8" r="2.7"/>
<circle cx="402.05" cy="361.4" r="2.7"/>
<circle cx="405.09" cy="360.6" r="2.7"/>
<circle cx="408.13" cy="359.6" r="2.7"/>
<circle cx="411.17" cy="358.7" r="2.7"/>
<circle cx="414.21" cy="356.9" r="2.7"/>
<circle cx="417.25" cy="355.2" r="2.7"/>
<circle cx="420.29" cy="350.4" r="2.7"/>
<circle cx="423.33" cy="353" r="2.7"/>
<circle cx="426.37" cy="350.6" r="2.7"/>
<circle cx="429.41" cy="353" r="2.7"/>
<circle cx="432.45" cy="349.8" r="2.7"/>
<circle cx="435.49" cy="354" r="2.7"/>
<circle cx="438.53" cy="351.8" r="2.7"/>
<circle cx="441.57" cy="356" r="2.7"/>
<circle cx="444.61" cy="347.6" r="2.7"/>
<circle cx="447.65" cy="344.6" r="2.7"/>
<circle cx="450.69" cy="343.1" r="2.7"/>
<circle cx="453.73" cy="342.2" r="2.7"/>
<circle cx="456.77" cy="339.2" r="2.7"/>
<circle cx="459.81" cy="348.8" r="2.7"/>
<circle cx="462.85" cy="358.4" r="2.7"/>
<circle cx="465.89" cy="342.8" r="2.7"/>
<circle cx="468.93" cy="356.5" r="2.7"/>
<circle cx="471.97" cy="340.5" r="2.7"/>
<circle cx="475.01" cy="342.3" r="2.7"/>
<circle cx="478.05" cy="341.4" r="2.7"/>
<circle cx="481.09" cy="355.1" r="2.7"/>
<circle cx="484.13" cy="318.1" r="2.7"/>
<circle cx="487.17" cy="349.6" r="2.7"/>
<circle cx="490.21" cy="347.3" r="2.7"/>
<circle cx="493.25" cy="323.7" r="2.7"/>
<circle cx="496.29" cy="361.6" r="2.7"/>
<circle cx="499.33" cy="356.3" r="2.7"/>
<circle cx="502.37" cy="318.2" r="2.7"/>
<circle cx="505.41" cy="335.6" r="2.7"/>
<circle cx="508.45" cy="352.8" r="2.7"/>
<circle cx="514.53" cy="345.8" r="2.7"/>
<circle cx="517.57" cy="350" r="2.7"/>
<circle cx="520.61" cy="362.5" r="2.7"/>
<circle cx="523.65" cy="371.6" r="2.7"/>
<circle cx="526.69" cy="345.8" r="2.7"/>
<circle cx="529.73" cy="325.4" r="2.7"/>
<circle cx="532.77" cy="373.6" r="2.7"/>
</g>
<text transform="translate(212.2 294.5) scale(0.96 1)" font-size="30.75">10</text>
<text transform="translate(241.04 277.3) scale(0.96 1)" font-size="18.45">1</text>
<text transform="translate(208.1 411.3) scale(0.96 1)" font-size="30.75">10</text>
<text transform="translate(236.94 394.1) scale(0.96 1)" font-size="18.45">0</text>
<text transform="translate(199.9 528.2) scale(0.96 1)" font-size="30.75">10</text>
<text transform="translate(228.75 512.58) scale(0.96 1)" font-size="18.45">−</text>
<text transform="translate(238.73 511) scale(0.96 1)" font-size="18.45">1</text>
<text transform="translate(232.9 552.8) scale(0.96 1)" font-size="30.75">10</text>
<text transform="translate(261.75 535.6) scale(0.96 1)" font-size="18.45">0</text>
<text transform="translate(302.9 552.8) scale(0.96 1)" font-size="30.75">10</text>
<text transform="translate(331.74 535.6) scale(0.96 1)" font-size="18.45">1</text>
<text transform="translate(372.9 552.8) scale(0.96 1)" font-size="30.75">10</text>
<text transform="translate(401.74 535.6) scale(0.96 1)" font-size="18.45">2</text>
<text transform="translate(442.9 552.8) scale(0.96 1)" font-size="30.75">10</text>
<text transform="translate(471.74 535.6) scale(0.96 1)" font-size="18.45">3</text>
<text transform="translate(512.9 552.8) scale(0.96 1)" font-size="30.75">10</text>
<text transform="translate(541.75 535.6) scale(0.96 1)" font-size="18.45">4</text>
<text class="i" transform="translate(390.4 500.9) scale(1 1)" font-size="27.48" stroke-width="0.14">t</text>
<g transform="translate(187.1 420) rotate(-90)"><text class="i" transform="translate(-0.4 0) scale(1.04 1)" font-size="28.65" stroke-width="0.09">r</text><text transform="translate(11.7 -1.3) scale(1.1 1)" font-size="27">(</text><text class="i" transform="translate(21.3 0) scale(1.08 1)" font-size="28.65" stroke-width="0.09">t</text><text transform="translate(29.15 -1.3) scale(1.1 1)" font-size="27">)</text></g>
<path d="M391 435.8H461.9" stroke="#111" stroke-width="1.25"/>
<text class="i" transform="translate(479.5 446) scale(1 1)" font-size="27.48" stroke-width="0.14">t</text>
<text transform="translate(487 428.6) scale(0.96 1)" font-size="18.45">0.19</text>
</svg>
</body></html>
